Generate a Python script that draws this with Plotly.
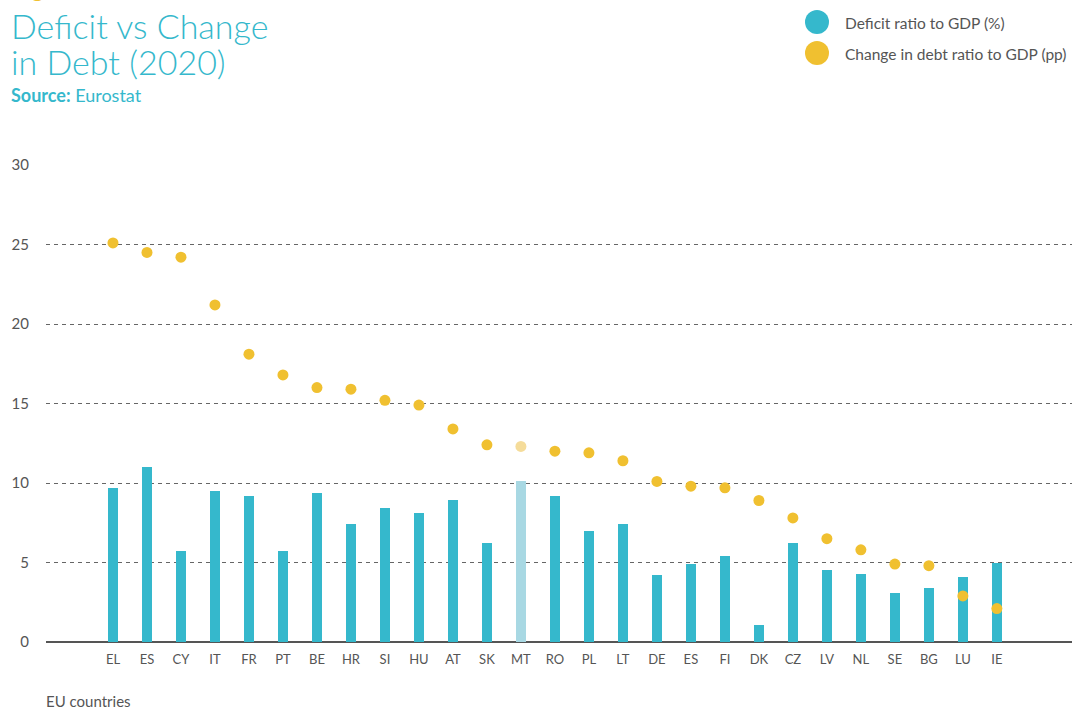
import plotly.graph_objects as go

countries = ["EL", "ES", "CY", "IT", "FR", "PT", "BE", "HR", "SI", "HU", "AT", "SK", "MT",
             "RO", "PL", "LT", "DE", "ES ", "FI", "DK", "CZ", "LV", "NL", "SE", "BG", "LU", "IE"]
deficit = [9.7, 11.0, 5.7, 9.5, 9.2, 5.7, 9.4, 7.4, 8.4, 8.1, 8.9, 6.2, 10.1,
           9.2, 7.0, 7.4, 4.2, 4.9, 5.4, 1.1, 6.2, 4.5, 4.3, 3.1, 3.4, 4.1, 5.0]
debt_change = [25.1, 24.5, 24.2, 21.2, 18.1, 16.8, 16.0, 15.9, 15.2, 14.9, 13.4, 12.4, 12.3,
               12.0, 11.9, 11.4, 10.1, 9.8, 9.7, 8.9, 7.8, 6.5, 5.8, 4.9, 4.8, 2.9, 2.1]
highlight = "MT"
y_ticks = [0, 5, 10, 15, 20, 25, 30]

TEAL = "#35b8cc"
TEAL_LIGHT = "#a8d8e3"
GOLD = "#f0c030"
GOLD_LIGHT = "#f5dc9a"
FONT = "Lato"

bar_colors = [TEAL_LIGHT if c == highlight else TEAL for c in countries]
dot_colors = [GOLD_LIGHT if c == highlight else GOLD for c in countries]
xs = list(range(len(countries)))

fig = go.Figure()
fig.add_trace(go.Bar(x=xs, y=deficit, marker=dict(color=bar_colors, line=dict(width=0)),
                     width=0.29, name="Deficit ratio to GDP (%)", showlegend=False))
fig.add_trace(go.Scatter(x=xs, y=debt_change, mode="markers",
                         marker=dict(color=dot_colors, size=11),
                         name="Change in debt ratio to GDP (pp)", showlegend=False))

L, R, T, B = 46, 2, 165, 67
W, H = 1074, 709
pw, ph = W - L - R, H - T - B

def px(xp):
    return (xp - L) / pw

def py(yp):
    return (H - B - yp) / ph

fig.update_layout(
    width=W, height=H,
    margin=dict(l=L, r=R, t=T, b=B, autoexpand=False),
    paper_bgcolor="white", plot_bgcolor="white",
    font=dict(family=FONT, color="#555555"),
    xaxis=dict(range=[-1.97, 28.21], tickmode="array", tickvals=xs,
               ticktext=[c.strip() for c in countries], showgrid=False,
               tickfont=dict(size=13, color="#555555"), ticks="", zeroline=False,
               showline=False, ticklabelstandoff=8),
    yaxis=dict(range=[0, 30], tickvals=y_ticks, showgrid=True, gridcolor="#666666",
               griddash="4px,4px", gridwidth=1, zeroline=True, zerolinecolor="#555555",
               zerolinewidth=1.5, tickfont=dict(size=15, color="#555555"), ticks="",
               ticklabelstandoff=16),
    bargap=0,
)

anns = []
anns.append(dict(text="Figure", x=px(12), y=py(4), xref="paper", yref="paper",
                 xanchor="left", yanchor="bottom", showarrow=False,
                 font=dict(size=22, color=GOLD, family=FONT)))
anns.append(dict(text="Deficit vs Change", x=px(9), y=py(26), xref="paper", yref="paper",
                 xanchor="left", yanchor="middle", showarrow=False,
                 font=dict(size=34, color=TEAL, family=FONT, weight=300)))
anns.append(dict(text="in Debt (2020)", x=px(9), y=py(62), xref="paper", yref="paper",
                 xanchor="left", yanchor="middle", showarrow=False,
                 font=dict(size=34, color=TEAL, family=FONT, weight=300)))
anns.append(dict(text="<b>Source:</b> Eurostat", x=px(9), y=py(95), xref="paper", yref="paper",
                 xanchor="left", yanchor="middle", showarrow=False,
                 font=dict(size=18, color=TEAL, family=FONT)))
anns.append(dict(text="Deficit ratio to GDP (%)", x=px(843), y=py(23), xref="paper", yref="paper",
                 xanchor="left", yanchor="middle", showarrow=False,
                 font=dict(size=15.5, color="#555555", family=FONT)))
anns.append(dict(text="Change in debt ratio to GDP (pp)", x=px(843), y=py(54), xref="paper", yref="paper",
                 xanchor="left", yanchor="middle", showarrow=False,
                 font=dict(size=15.5, color="#555555", family=FONT)))
anns.append(dict(text="EU countries", x=px(44), y=py(701), xref="paper", yref="paper",
                 xanchor="left", yanchor="middle", showarrow=False,
                 font=dict(size=15, color="#555555", family=FONT)))
fig.update_layout(annotations=anns)

shapes = []
for cy, col in [(22, TEAL), (53, GOLD)]:
    shapes.append(dict(type="circle", xref="paper", yref="paper",
                       x0=px(805), x1=px(829), y0=py(cy + 12), y1=py(cy - 12),
                       fillcolor=col, line=dict(width=0)))
fig.update_layout(shapes=shapes)

fig.write_html("out.html", config={"displayModeBar": False},
               post_script="document.body.style.margin='0';document.body.style.overflow='hidden';")
